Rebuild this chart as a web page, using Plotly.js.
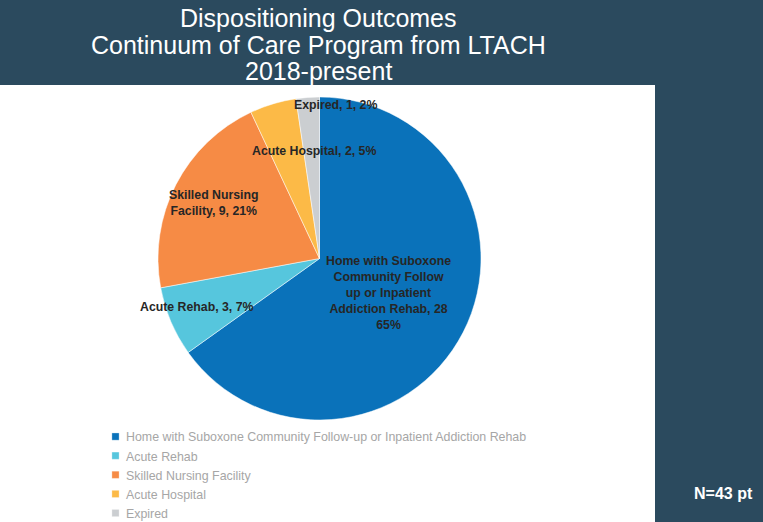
<!DOCTYPE html>
<html>
<head>
<meta charset="utf-8">
<script src="https://cdn.plot.ly/plotly-3.0.1.min.js"></script>
<style>html,body{margin:0;padding:0;background:#2b4a5e;}#chart{width:763px;height:522px;}</style>
</head>
<body>
<div id="chart"></div>
<script>
const categories = [
  "Home with Suboxone Community Follow-up or Inpatient Addiction Rehab",
  "Acute Rehab",
  "Skilled Nursing Facility",
  "Acute Hospital",
  "Expired"
];
const counts = [28, 3, 9, 2, 1];
const percents = ["65%", "7%", "21%", "5%", "2%"];
const labelTexts = [
  "Home with Suboxone<br>Community Follow<br>up or Inpatient<br>Addiction Rehab, 28<br>65%",
  "Acute Rehab, 3, 7%",
  "Skilled Nursing<br>Facility, 9, 21%",
  "Acute Hospital, 2, 5%",
  "Expired, 1, 2%"
];
const titleLines = ["Dispositioning Outcomes", "Continuum of Care Program from LTACH", "2018-present"];
const colors = ["#0a72ba", "#56c6dd", "#f68b45", "#fcba47", "#cbced1"];

const W = 763, H = 522;
const px = (x) => x / W;
const py = (y) => 1 - y / H;
const FONT = "Liberation Sans, Arial, sans-serif";

// label anchor points (pixels) for data labels
const labelPos = [[388, 293], [197, 307], [214, 203], [314, 151], [335, 105]];

const annotations = labelTexts.map((t, i) => ({
  text: "<b>" + t + "</b>",
  xref: "paper", yref: "paper",
  x: px(labelPos[i][0]), y: py(labelPos[i][1]),
  xanchor: "center", yanchor: "middle",
  showarrow: false,
  font: {family: FONT, size: 12.3, color: "#262626"},
  align: "center"
}));
annotations.push({
  text: "<b>N=43 pt</b>",
  xref: "paper", yref: "paper",
  x: px(723), y: py(493),
  xanchor: "center", yanchor: "middle",
  showarrow: false,
  font: {family: FONT, size: 16, color: "#ffffff"}
});
const titleY = [18, 45, 71];
titleLines.forEach((t, i) => annotations.push({
  text: t,
  xref: "paper", yref: "paper",
  x: px(318), y: py(titleY[i]),
  xanchor: "center", yanchor: "middle",
  showarrow: false,
  font: {family: FONT, size: 25, color: "#ffffff"}
}));

const cx = 319.5, cy = 258.5, r = 161.5;

const data = [{
  type: "pie",
  labels: categories,
  values: counts,
  sort: false,
  direction: "clockwise",
  rotation: 0,
  textinfo: "none",
  hoverinfo: "label+value+percent",
  marker: {colors: colors, line: {color: "#ffffff", width: 0.5}},
  domain: {x: [px(cx - r), px(cx + r)], y: [py(cy + r), py(cy - r)]}
}];

const layout = {
  width: W, height: H,
  margin: {l: 0, r: 0, t: 0, b: 0, autoexpand: false},
  paper_bgcolor: "#2b4a5e",
  plot_bgcolor: "#2b4a5e",
  shapes: [{
    type: "rect", xref: "paper", yref: "paper",
    x0: 0, x1: px(655), y0: 0, y1: py(85),
    fillcolor: "#ffffff", line: {width: 0}, layer: "below"
  }],
  showlegend: true,
  legend: {
    x: px(86), y: py(422), xanchor: "left", yanchor: "top",
    font: {family: FONT, size: 12.4, color: "#a6a6a6"},
    bgcolor: "rgba(0,0,0,0)",
    tracegroupgap: 0
  },
  annotations: annotations
};

Plotly.newPlot("chart", data, layout, {displayModeBar: false, staticPlot: true}).then(function (gd) {
  // shrink the legend swatches to small squares close to the text
  gd.querySelectorAll(".legendpoints path").forEach(function (p) {
    p.setAttribute("transform", "translate(29.5,0) scale(0.6)");
  });
});
</script>
</body>
</html>
